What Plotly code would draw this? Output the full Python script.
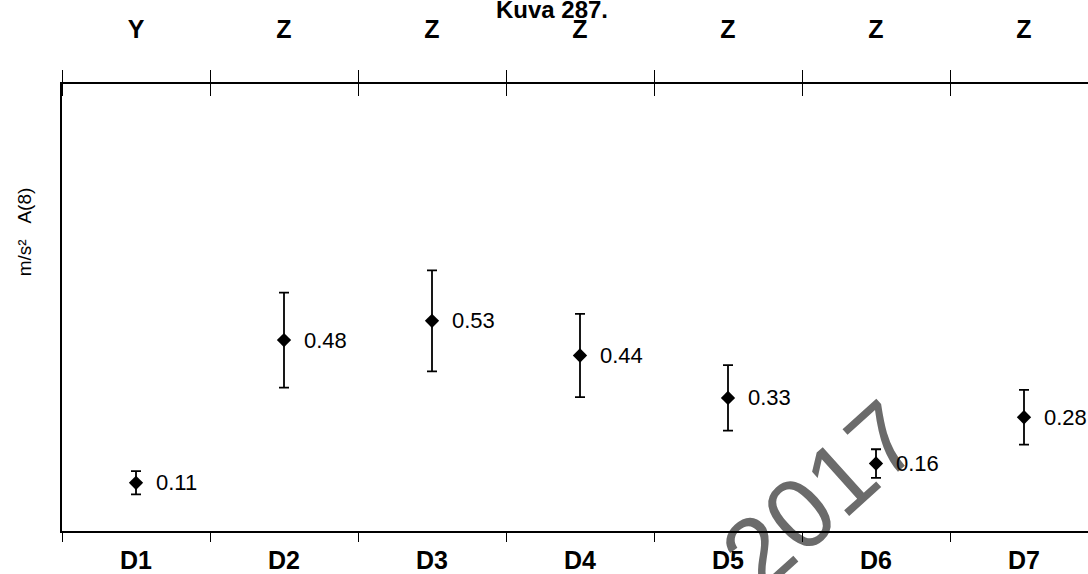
import plotly.graph_objects as go

# ---- data ----
bottom_labels = ["D1", "D2", "D3", "D4", "D5", "D6", "D7"]
top_labels = ["Y", "Z", "Z", "Z", "Z", "Z", "Z"]
values = [0.11, 0.48, 0.53, 0.44, 0.33, 0.16, 0.28]
errors = [0.03, 0.123, 0.131, 0.108, 0.085, 0.037, 0.071]
title_text = "Kuva 287."
y_title = "m/s²\u00a0\u00a0\u00a0A(8)"
watermark = "2017"

FONT = "Liberation Sans, Arial, sans-serif"
W, H = 1088, 574
L, T, B = 62, 84, 41
cat_px = 148.0
n = len(bottom_labels)
idx = list(range(n))
x_max = -0.5 + (W - L) / cat_px
x_range = [-0.5, x_max]
y_range = [-0.015, 1.144]
bounds = [i - 0.5 for i in range(n + 1)]

fig = go.Figure()

fig.add_trace(go.Scatter(
    x=idx, y=values, mode="markers",
    marker=dict(symbol="diamond", size=11, color="black"),
    error_y=dict(type="data", array=errors, color="black", thickness=1.8, width=5),
    showlegend=False, hoverinfo="skip", cliponaxis=False,
))
# invisible helper traces to anchor the top axes
fig.add_trace(go.Scatter(x=idx, y=values, xaxis="x2", mode="markers",
                         marker=dict(opacity=0), showlegend=False, hoverinfo="skip"))
fig.add_trace(go.Scatter(x=idx, y=values, xaxis="x3", mode="markers",
                         marker=dict(opacity=0), showlegend=False, hoverinfo="skip"))

for i, v in zip(idx, values):
    fig.add_annotation(x=i, y=v, text=f"{v:.2f}", showarrow=False,
                       xanchor="left", yanchor="middle", xshift=18,
                       font=dict(family=FONT, size=22, color="black"))

fig.add_annotation(xref="paper", yref="paper", x=(24 - L) / (W - L),
                   y=(H - B - 233) / (H - T - B), text=y_title, textangle=-90,
                   xanchor="center", yanchor="middle",
                   showarrow=False, font=dict(family=FONT, size=19, color="black"))

# watermark, drawn beneath the data
cx = (814 - L) / (W - L)
cy = (H - B - 490) / (H - T - B)
fig.add_shape(type="rect", xref="paper", yref="paper", x0=cx - 0.001, x1=cx + 0.001,
              y0=cy - 0.001, y1=cy + 0.001, line=dict(width=0), fillcolor="rgba(0,0,0,0)",
              layer="below",
              label=dict(text=watermark, textangle=-42, textposition="middle center",
                         font=dict(family=FONT, size=100, color="#6b6b6b")))

axis_common = dict(range=x_range, showgrid=False, zeroline=False,
                   tickfont=dict(family=FONT, size=25, color="black"))

fig.update_layout(
    width=W, height=H,
    margin=dict(l=L, r=0, t=T, b=B),
    paper_bgcolor="white", plot_bgcolor="white",
    title=dict(text=f"<b>{title_text}</b>", x=552 / W, xref="container", xanchor="center",
               y=1 - 10 / H, yref="container", yanchor="middle",
               font=dict(family=FONT, size=24, color="black")),
    xaxis=dict(**axis_common, tickmode="array", tickvals=idx,
               ticktext=[f"<b>{t}</b>" for t in bottom_labels], ticks="",
               showline=True, linecolor="black", linewidth=1.5,
               ticklabelstandoff=6,
               minor=dict(tickmode="array", tickvals=bounds, ticks="outside",
                          ticklen=9, tickwidth=1, tickcolor="black")),
    xaxis2=dict(**axis_common, overlaying="x", side="top", anchor="y",
                tickmode="array", tickvals=idx,
                ticktext=[f"<b>{t}</b>" for t in top_labels], ticks="",
                showline=True, linecolor="black", linewidth=1.5,
                ticklabelstandoff=34,
                minor=dict(tickmode="array", tickvals=bounds, ticks="outside",
                           ticklen=12, tickwidth=1, tickcolor="black")),
    xaxis3=dict(range=x_range, overlaying="x", side="top", anchor="y",
                showgrid=False, zeroline=False, showticklabels=False, ticks="",
                tickmode="array", tickvals=idx,
                minor=dict(tickmode="array", tickvals=bounds, ticks="inside",
                           ticklen=12, tickwidth=1, tickcolor="black")),
    yaxis=dict(range=y_range, showgrid=False, zeroline=False, showticklabels=False,
               ticks="", showline=True, linecolor="black", linewidth=1.5),
)

fig.write_html("out.html", config={"displayModeBar": False},
               post_script="document.body.style.margin='0px';document.body.style.overflow='hidden';")
